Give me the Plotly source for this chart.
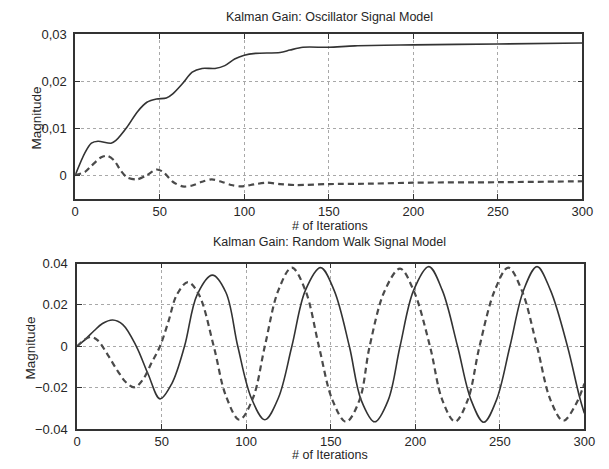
import plotly.graph_objects as go

# ---------------- data ----------------
# Top: Oscillator signal model
osc_solid_x = [0, 5.8, 9.6, 13.5, 21.2, 24.1, 30.8, 36.6, 42.4, 48.1, 53.9, 57.7, 63.5, 69.2, 75, 82.7,
               88.5, 94.3, 100, 106.7, 121.2, 127, 134.7, 150, 165.4, 200, 249.7, 300]
osc_solid_y = [0, 0.0048, 0.0068, 0.0072, 0.0068, 0.0074, 0.0103, 0.0134, 0.0155, 0.0162, 0.0164, 0.0173,
               0.0195, 0.0219, 0.0227, 0.0227, 0.0233, 0.0247, 0.0255, 0.0259, 0.0261, 0.0266, 0.0272,
               0.0272, 0.0275, 0.0277, 0.0279, 0.0281]
osc_dash_x = [0, 5.8, 9.6, 15.4, 19.2, 23.1, 26.9, 30.8, 36.6, 42.4, 48.1, 52, 57.7, 63.5, 69.2, 75,
              80.8, 86.5, 92.3, 98.1, 103.8, 113.3, 121.2, 130.8, 150, 176, 200, 250, 300]
osc_dash_y = [0, 0.0007, 0.002, 0.0038, 0.0041, 0.0031, 0.001, -0.0005, -0.0009, 0, 0.0012, 0.0007,
              -0.0014, -0.0024, -0.0022, -0.0014, -0.0009, -0.0014, -0.0021, -0.0024, -0.0021, -0.0016,
              -0.0019, -0.0021, -0.0019, -0.0018, -0.0016, -0.0015, -0.0013]

# Bottom: Random walk signal model
rw_solid_x = [0, 5, 10, 15, 21, 27, 35, 42, 49, 56, 63.5, 71, 80, 88, 95, 103, 111, 119, 127, 135, 144,
              152, 161, 168, 176, 184, 191, 199, 208, 216, 225, 233, 240.5, 248, 256, 264, 272, 280,
              290, 297, 300]
rw_solid_y = [0, 0.0035, 0.0075, 0.011, 0.0127, 0.0105, 0.0, -0.0135, -0.0254, -0.018, 0.0, 0.025,
              0.0344, 0.026, 0.0, -0.025, -0.0355, -0.025, 0.0, 0.027, 0.038, 0.027, 0.0, -0.026,
              -0.0365, -0.026, 0.0, 0.027, 0.0385, 0.027, 0.0, -0.026, -0.0367, -0.026, 0.0, 0.027,
              0.0385, 0.027, 0.0, -0.024, -0.0324]
rw_dash_x = [0, 4, 8, 12, 18, 24, 29, 34, 39, 44, 49, 54, 59, 65.5, 72, 80.8, 88, 96, 104, 111, 119,
             127, 135, 143, 151, 159, 167, 173, 182, 191, 199, 208.7, 216, 223.5, 231, 238, 247, 255,
             263, 272, 280, 287.5, 295, 300]
rw_dash_y = [0, 0.003, 0.0045, 0.003, -0.004, -0.012, -0.0175, -0.0198, -0.016, -0.008, 0.0, 0.012,
             0.025, 0.031, 0.025, 0.0, -0.024, -0.0355, -0.025, 0.0, 0.027, 0.038, 0.027, 0.0, -0.026,
             -0.0365, -0.026, 0.0, 0.027, 0.0375, 0.027, 0.0, -0.026, -0.0364, -0.026, 0.0, 0.027,
             0.038, 0.027, 0.0, -0.026, -0.036, -0.028, -0.018]

x_ticks = [0, 50, 100, 150, 200, 250, 300]
x_tick_text = ["0", "50", "100", "150", "200", "250", "300"]
top_y_ticks = [0, 0.01, 0.02, 0.03]
top_y_text = ["0", "0,01", "0,02", "0,03"]
bot_y_ticks = [-0.04, -0.02, 0, 0.02, 0.04]
bot_y_text = ["\u22120.04", "\u22120.02", "0", "0.02", "0.04"]

titles = ["Kalman Gain: Oscillator Signal Model", "Kalman Gain: Random Walk Signal Model"]
x_title = "# of Iterations"
y_title = "Magnitude"

# ---------------- style ----------------
FONT = "Liberation Sans, Arial, sans-serif"
INK = "#262626"
LINE = "#333333"
GRID = "#a8a8a8"
W, H = 609, 469

def px_x(p):
    return p / W

def px_y(p):
    return 1 - p / H

fig = go.Figure()
fig.add_trace(go.Scatter(x=osc_solid_x, y=osc_solid_y, mode="lines", line=dict(color=LINE, width=1.6, shape="spline", smoothing=0.8),
                         xaxis="x", yaxis="y", showlegend=False))
fig.add_trace(go.Scatter(x=osc_dash_x, y=osc_dash_y, mode="lines", line=dict(color="#4a4a4a", width=2.2, dash="6px,4px", shape="spline", smoothing=0.8),
                         xaxis="x", yaxis="y", showlegend=False))
fig.add_trace(go.Scatter(x=rw_solid_x, y=rw_solid_y, mode="lines", line=dict(color=LINE, width=1.6, shape="spline", smoothing=1.0),
                         xaxis="x2", yaxis="y2", showlegend=False))
fig.add_trace(go.Scatter(x=rw_dash_x, y=rw_dash_y, mode="lines", line=dict(color="#4a4a4a", width=2.2, dash="6px,4px", shape="spline", smoothing=1.0),
                         xaxis="x2", yaxis="y2", showlegend=False))

common_axis = dict(showline=True, linecolor=LINE, linewidth=1.5, mirror="ticks", ticks="inside",
                   ticklen=5, tickcolor=LINE, showgrid=True, gridcolor=GRID, griddash="dot",
                   gridwidth=1, zeroline=False, tickfont=dict(family=FONT, size=13, color=INK))

fig.update_layout(
    width=W, height=H,
    margin=dict(l=0, r=0, t=0, b=0),
    paper_bgcolor="white", plot_bgcolor="white",
    xaxis=dict(common_axis, domain=[px_x(73), px_x(593)], range=[0, 300], tickvals=x_ticks,
               ticktext=x_tick_text, anchor="y", ticklabelstandoff=0),
    yaxis=dict(common_axis, domain=[px_y(198), px_y(28)], range=[-0.005, 0.03], tickvals=top_y_ticks,
               ticktext=top_y_text, anchor="x", ticklabelstandoff=4),
    xaxis2=dict(common_axis, domain=[px_x(75), px_x(595)], range=[0, 300], tickvals=x_ticks,
                ticktext=x_tick_text, anchor="y2", ticklabelstandoff=0),
    yaxis2=dict(common_axis, domain=[px_y(436), px_y(265)], range=[-0.04, 0.04], tickvals=bot_y_ticks,
                ticktext=bot_y_text, anchor="x2", ticklabelstandoff=5),
)

def label(text, x, y, size, angle=0):
    return dict(text=text, x=px_x(x), y=px_y(y), xref="paper", yref="paper", showarrow=False,
                font=dict(family=FONT, size=size, color=INK), textangle=angle,
                xanchor="center", yanchor="middle", borderpad=0)

annotations = [
    label(titles[0], 334, 10, 12.5),
    label(titles[1], 334, 243, 12.5),
    label(x_title, 334, 226, 12.5),
    label(x_title, 334, 462.5, 12.5),
    label(y_title, 33, 115, 13.5, -90),
    label(y_title, 27.5, 352, 13.5, -90),
]
fig.update_layout(annotations=annotations)

fig.write_html("out.html")
